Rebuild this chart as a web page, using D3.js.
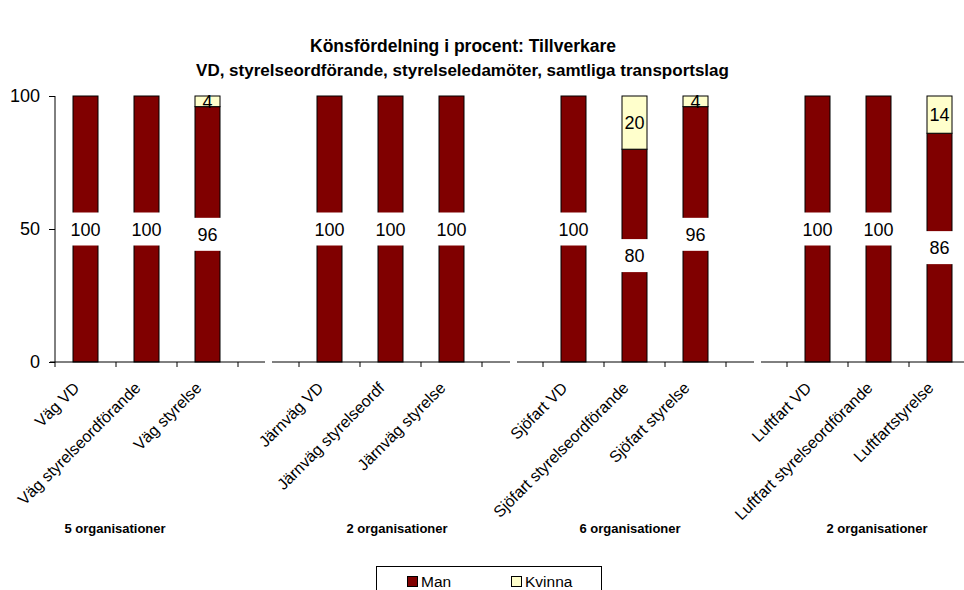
<!DOCTYPE html>
<html><head><meta charset="utf-8">
<script src="https://cdn.jsdelivr.net/npm/d3@7"></script>
<style>body{margin:0;background:#fff;} svg{display:block;font-family:"Liberation Sans",Arial,sans-serif;}</style>
</head><body>
<svg id="c" width="964" height="590"></svg>
<script>
const categories = ["Väg VD","Väg styrelseordförande","Väg styrelse","",
  "Järnväg VD","Järnväg styrelseordf","Järnväg styrelse","",
  "Sjöfart VD","Sjöfart styrelseordförande","Sjöfart styrelse","",
  "Luftfart VD","Luftfart styrelseordförande","Luftfartstyrelse"];
const manValues =    [100,100,96,null, 100,100,100,null, 100,80,96,null, 100,100,86];
const kvinnaValues = [0,0,4,null, 0,0,0,null, 0,20,4,null, 0,0,14];
const yTicks = [0,50,100];
const groupLabels = ["5 organisationer","2 organisationer","6 organisationer","2 organisationer"];
const groupLabelX = [115,397,630,877];
const seriesNames = ["Man","Kvinna"];
const colors = ["#800000","#FFFFCC"];

const svg = d3.select("#c");
const slotKeys = categories.map((d,i)=>i);
const x = d3.scaleBand().domain(slotKeys).range([55,970]).paddingInner(0).paddingOuter(0);
const y = d3.scaleLinear().domain([0,100]).range([362,96]);
const bw = 25;

// title
svg.append("text").attr("x",463).attr("y",52).attr("text-anchor","middle")
  .attr("font-weight","bold").attr("font-size",17.5).text("Könsfördelning i procent: Tillverkare");
svg.append("text").attr("x",462.5).attr("y",76).attr("text-anchor","middle")
  .attr("font-weight","bold").attr("font-size",17).text("VD, styrelseordförande, styrelseledamöter, samtliga transportslag");

// bars
const data = categories.map((c,i)=>({i, c, m: manValues[i], k: kvinnaValues[i]})).filter(d=>d.m!==null);
const g = svg.append("g");
data.forEach(d=>{
  const bx = x(d.i) + (x.bandwidth()-bw)/2;
  g.append("rect").attr("x",bx).attr("y",y(d.m)).attr("width",bw).attr("height",y(0)-y(d.m))
    .attr("fill",colors[0]).attr("stroke","#000").attr("stroke-width",1);
  if (d.k>0) {
    g.append("rect").attr("x",bx).attr("y",y(d.m+d.k)).attr("width",bw).attr("height",y(d.m)-y(d.m+d.k))
      .attr("fill",colors[1]).attr("stroke","#000").attr("stroke-width",1);
  }
});

// axes
const yAxis = svg.append("g").attr("transform","translate(55,0)")
  .call(d3.axisLeft(y).tickValues(yTicks).tickSize(6).tickPadding(9));
yAxis.select(".domain").attr("d","M0,96V362").attr("stroke","#000");
yAxis.selectAll(".tick line").attr("stroke","#000");
yAxis.selectAll(".tick text").attr("font-size",18).attr("fill","#000").attr("font-family","Liberation Sans, Arial, sans-serif");

// x axis with ticks at slot boundaries, drawn in panel segments
const boundaries = d3.range(categories.length+1).map(i=> i<categories.length ? x(i) : x(categories.length-1)+x.bandwidth());
const xa = svg.append("g");
const segs = [[50,265],[272,510],[517,754],[761,970]];
segs.forEach(s=> xa.append("line").attr("x1",s[0]).attr("x2",s[1]).attr("y1",362).attr("y2",362).attr("stroke","#000").attr("stroke-width",1));
boundaries.forEach(b=> xa.append("line").attr("x1",b).attr("x2",b).attr("y1",362).attr("y2",367).attr("stroke","#000"));

// x labels rotated
data.forEach(d=>{
  const cx = x(d.i)+x.bandwidth()/2;
  svg.append("text").attr("transform",`translate(${cx-5},${389}) rotate(-45)`)
    .attr("text-anchor","end").attr("font-size",16).text(d.c);
});

// value labels
data.forEach(d=>{
  const cx = x(d.i)+x.bandwidth()/2;
  const my = y(d.m/2);
  svg.append("rect").attr("x",cx-19).attr("y",my-16.5).attr("width",38).attr("height",33).attr("fill","#fff");
  svg.append("text").attr("x",cx).attr("y",my+6.5).attr("text-anchor","middle").attr("font-size",18).text(d.m);
  if (d.k>0) {
    svg.append("text").attr("x",cx).attr("y",y(d.m+d.k/2)+6.5).attr("text-anchor","middle").attr("font-size",18).text(d.k);
  }
});

// group labels
groupLabels.forEach((t,i)=> svg.append("text").attr("x",groupLabelX[i]).attr("y",533)
  .attr("text-anchor","middle").attr("font-weight","bold").attr("font-size",13).text(t));

// legend
const lg = svg.append("g");
lg.append("rect").attr("x",376.5).attr("y",566.5).attr("width",225).attr("height",30).attr("fill","#fff").attr("stroke","#000");
seriesNames.forEach((n,i)=>{
  const lx = [407,511][i];
  lg.append("rect").attr("x",lx+0.5).attr("y",576.5).attr("width",10).attr("height",10).attr("fill",colors[i]).attr("stroke","#000");
  lg.append("text").attr("x",lx+14).attr("y",587).attr("font-size",15.5).text(n);
});
</script>
</body></html>
